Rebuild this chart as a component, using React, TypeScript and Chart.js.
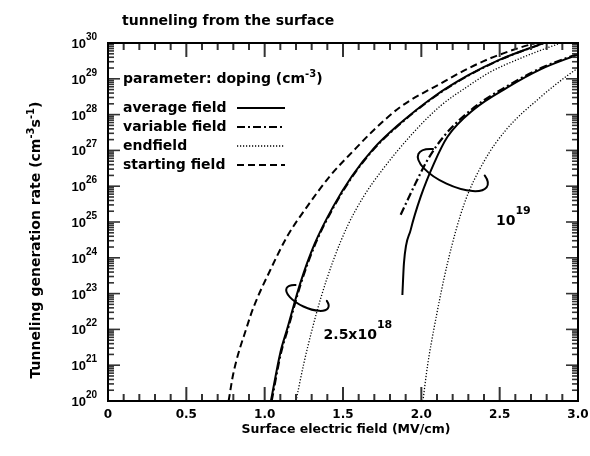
import React, { useEffect, useRef } from "react";
import { Chart, registerables } from "chart.js";

Chart.register(...registerables);

// ---- Data (surface field in MV/cm, generation rate as log10 exponent) ----
// doping 2.5x10^18
const startingField25 = [0.77, 0.80, 0.887, 0.93, 1.036, 1.143, 1.271, 1.42, 1.569, 1.697, 1.868, 2.124, 2.295, 2.444, 2.615, 2.73];
const startingExp25 = [20.0, 20.77, 22.08, 22.63, 23.66, 24.59, 25.43, 26.3, 27.0, 27.57, 28.22, 28.87, 29.28, 29.58, 29.85, 30.0];
const averageField25 = [1.04, 1.10, 1.143, 1.228, 1.32, 1.44, 1.56, 1.695, 1.85, 2.08, 2.3, 2.508, 2.78];
const averageExp25 = [20.0, 21.35, 22.0, 23.3, 24.4, 25.45, 26.3, 27.05, 27.7, 28.5, 29.1, 29.55, 30.0];
const variableField25 = [1.045, 1.105, 1.148, 1.233, 1.325, 1.445, 1.565, 1.70, 1.855, 2.085, 2.305, 2.513, 2.785];
const variableExp25 = [20.0, 21.35, 22.0, 23.3, 24.4, 25.45, 26.3, 27.05, 27.7, 28.5, 29.1, 29.55, 30.0];
const endField25 = [1.20, 1.25, 1.30, 1.36, 1.44, 1.53, 1.63, 1.75, 1.95, 2.124, 2.30, 2.444, 2.62, 2.764, 2.89];
const endExp25 = [20.0, 21.05, 21.95, 22.9, 23.95, 24.9, 25.7, 26.45, 27.5, 28.25, 28.8, 29.2, 29.55, 29.8, 30.0];
// doping 10^19
const variableField19 = [1.868, 1.953, 2.039, 2.145, 2.337, 2.55, 2.764, 3.0];
const variableExp19 = [25.2, 25.99, 26.73, 27.4, 28.2, 28.8, 29.3, 29.7];
const averageField19 = [1.879, 1.889, 1.932, 1.996, 2.081, 2.167, 2.337, 2.55, 2.764, 3.0];
const averageExp19 = [22.96, 23.85, 24.78, 25.71, 26.64, 27.38, 28.15, 28.76, 29.27, 29.68];
const endField19 = [2.01, 2.04, 2.081, 2.167, 2.273, 2.401, 2.54, 2.764, 2.935, 3.0];
const endExp19 = [20.0, 21.0, 22.03, 23.85, 25.5, 26.7, 27.57, 28.5, 29.1, 29.3];

// axes
const xTickValues = [0, 0.5, 1.0, 1.5, 2.0, 2.5, 3.0];
const xTickLabels = ["0", "0.5", "1.0", "1.5", "2.0", "2.5", "3.0"];
const yTickExponents = [20, 21, 22, 23, 24, 25, 26, 27, 28, 29, 30];
const xMinorTicks = [0, 0.1, 0.2, 0.3, 0.4, 0.5, 0.6, 0.7, 0.8, 0.9, 1.0, 1.1, 1.2, 1.3, 1.4, 1.5, 1.6, 1.7, 1.8, 1.9, 2.0, 2.1, 2.2, 2.3, 2.4, 2.5, 2.6, 2.7, 2.8, 2.9, 3.0];
const yMinorMultipliers = [1, 2, 3, 4, 5, 6, 7, 8, 9];

// annotations (loop centre and label anchors, data units)
const loopField = [1.273, 2.201];
const loopExp = [22.88, 26.45];
const labelField = [1.376, 2.476];
const labelExp = [21.73, 24.92];
const labelBase = ["2.5x10", "10"];
const labelSup = ["18", "19"];

const legendLabels = ["average field", "variable field", "endfield", "starting field"];

const DASH_START = [7, 4];
const DASH_VAR = [8, 3, 2, 3];
const DASH_END = [1.2, 1.8];

const BOLD = "bold 14px 'DejaVu Sans'";
const TICK_COLOR = "#333333";

function pts(xs: number[], es: number[]) {
  return xs.map((x, i) => ({ x, y: Math.pow(10, es[i]) }));
}

type Part = [string, boolean];

function richWidth(ctx: CanvasRenderingContext2D, parts: Part[], font: string, supFont: string) {
  let w = 0;
  for (const [t, sup] of parts) {
    ctx.font = sup ? supFont : font;
    w += ctx.measureText(t).width;
  }
  return w;
}

function drawRich(ctx: CanvasRenderingContext2D, parts: Part[], x: number, y: number, font: string, supFont: string, rise: number) {
  let cx = x;
  ctx.textAlign = "left";
  ctx.textBaseline = "alphabetic";
  for (const [t, sup] of parts) {
    ctx.font = sup ? supFont : font;
    ctx.fillText(t, cx, sup ? y - rise : y);
    cx += ctx.measureText(t).width;
  }
}

function seg(ctx: CanvasRenderingContext2D, x1: number, y1: number, x2: number, y2: number) {
  ctx.beginPath();
  ctx.moveTo(x1, y1);
  ctx.lineTo(x2, y2);
  ctx.stroke();
}

const tickPlugin = {
  id: "ticks",
  afterDraw(chart: any) {
    const ctx: CanvasRenderingContext2D = chart.ctx;
    const a = chart.chartArea;
    const xs = chart.scales.x;
    const ys = chart.scales.y;
    ctx.save();
    ctx.fillStyle = TICK_COLOR;
    // bottom and top ticks, pointing inward
    xMinorTicks.forEach((v, i) => {
      const px = xs.getPixelForValue(v);
      const len = i % 5 === 0 ? 14 : 7;
      ctx.fillRect(px - 1, a.bottom - len, 2, len);
      ctx.fillRect(px - 1, a.top, 2, len);
    });
    // left and right ticks (log minor), pointing inward
    for (let d = 20; d < 30; d++) {
      yMinorMultipliers.forEach((m) => {
        const py = ys.getPixelForValue(m * Math.pow(10, d));
        const len = m === 1 ? 12 : 6;
        ctx.fillRect(a.left, py - 0.8, len, 1.6);
        ctx.fillRect(a.right - len, py - 0.8, len, 1.6);
      });
    }
    ctx.restore();
  },
};

const decorPlugin = {
  id: "decor",
  afterDraw(chart: any) {
    const ctx: CanvasRenderingContext2D = chart.ctx;
    const a = chart.chartArea;
    const xs = chart.scales.x;
    const ys = chart.scales.y;
    const L = a.left, R = a.right, T = a.top, B = a.bottom;
    ctx.save();
    ctx.fillStyle = "#000";
    ctx.strokeStyle = "#000";
    ctx.setLineDash([]);
    ctx.lineCap = "butt";

    // frame
    ctx.lineWidth = 2;
    ctx.strokeRect(L, T, R - L, B - T);

    // x tick labels
    ctx.font = "bold 12px 'DejaVu Sans'";
    ctx.textAlign = "center";
    ctx.textBaseline = "alphabetic";
    xTickValues.forEach((v, i) => {
      ctx.fillText(xTickLabels[i], xs.getPixelForValue(v), B + 17);
    });

    // y tick labels 10^n
    yTickExponents.forEach((e) => {
      const py = ys.getPixelForValue(Math.pow(10, e));
      ctx.font = "bold 13px 'Liberation Sans'";
      ctx.textAlign = "right";
      ctx.fillText("10", L - 22, py + 5);
      ctx.font = "bold 10px 'Liberation Sans'";
      ctx.textAlign = "left";
      ctx.fillText(String(e), L - 22, py - 3);
    });

    // axis titles
    ctx.font = "bold 12.5px 'DejaVu Sans'";
    ctx.textAlign = "center";
    ctx.fillText("Surface electric field (MV/cm)", (L + R) / 2 + 3, B + 32);

    const yParts: Part[] = [["Tunneling generation rate (cm", false], ["-3", true], ["s", false], ["-1", true], [")", false]];
    const yFont = "bold 14px 'DejaVu Sans'";
    const ySup = "bold 10px 'DejaVu Sans'";
    ctx.save();
    ctx.translate(40, (T + B) / 2 + 18);
    ctx.rotate(-Math.PI / 2);
    const yw = richWidth(ctx, yParts, yFont, ySup);
    drawRich(ctx, yParts, -yw / 2, 0, yFont, ySup, 6);
    ctx.restore();

    // chart title
    ctx.font = BOLD;
    ctx.textAlign = "left";
    ctx.fillText("tunneling from the surface", 122, 25);

    // legend
    drawRich(ctx, [["parameter: doping (cm", false], ["-3", true], [")", false]], 123, 83, BOLD, "bold 10px 'DejaVu Sans'", 6);
    const legendY = [112, 131, 150, 169];
    const legendDash = [[], DASH_VAR, DASH_END, DASH_START];
    const legendWidth = [2, 2, 1.3, 2];
    legendLabels.forEach((lab, i) => {
      ctx.font = BOLD;
      ctx.textAlign = "left";
      ctx.fillText(lab, 123, legendY[i]);
      ctx.setLineDash(legendDash[i]);
      ctx.lineWidth = legendWidth[i];
      seg(ctx, 237, legendY[i] - 4, 285, legendY[i] - 4);
    });
    ctx.setLineDash([]);

    // annotation loops
    const loopR = [[23, 9.5], [38, 15]];
    ctx.lineWidth = 2;
    ctx.lineCap = "round";
    loopField.forEach((f, i) => {
      const cx = xs.getPixelForValue(f);
      const cy = ys.getPixelForValue(Math.pow(10, loopExp[i]));
      ctx.beginPath();
      ctx.ellipse(cx, cy, loopR[i][0], loopR[i][1], (25 * Math.PI) / 180, (225 * Math.PI) / 180, (-35 * Math.PI) / 180, true);
      ctx.stroke();
    });
    // annotation labels
    labelField.forEach((f, i) => {
      const lx = xs.getPixelForValue(f);
      const ly = ys.getPixelForValue(Math.pow(10, labelExp[i]));
      drawRich(ctx, [[labelBase[i], false], [labelSup[i], true]], lx, ly, BOLD, "bold 11px 'DejaVu Sans'", 11);
    });

    ctx.restore();
  },
};

export default function App() {
  const ref = useRef<HTMLCanvasElement | null>(null);
  useEffect(() => {
    document.body.style.margin = "0";
    const canvas = ref.current;
    if (!canvas) return;
    const common = { pointRadius: 0, borderColor: "#000", fill: false, cubicInterpolationMode: "monotone" as const, borderCapStyle: "butt" as const };
    const chart = new Chart(canvas, {
      type: "line",
      data: {
        datasets: [
          { ...common, label: "starting 2.5e18", data: pts(startingField25, startingExp25), borderWidth: 2, borderDash: DASH_START },
          { ...common, label: "average 2.5e18", data: pts(averageField25, averageExp25), borderWidth: 2 },
          { ...common, label: "variable 2.5e18", data: pts(variableField25, variableExp25), borderWidth: 2, borderDash: DASH_VAR },
          { ...common, label: "endfield 2.5e18", data: pts(endField25, endExp25), borderWidth: 1.3, borderDash: DASH_END },
          { ...common, label: "variable 1e19", data: pts(variableField19, variableExp19), borderWidth: 2.2, borderDash: DASH_VAR },
          { ...common, label: "average 1e19", data: pts(averageField19, averageExp19), borderWidth: 2 },
          { ...common, label: "endfield 1e19", data: pts(endField19, endExp19), borderWidth: 1.3, borderDash: DASH_END },
        ],
      },
      options: {
        animation: false,
        responsive: false,
        devicePixelRatio: 1,
        parsing: false,
        layout: { padding: { left: 108, top: 43, right: 12, bottom: 55 } },
        plugins: { legend: { display: false }, title: { display: false }, tooltip: { enabled: false } },
        scales: {
          x: { type: "linear", min: 0, max: 3, display: false },
          y: { type: "logarithmic", min: 1e20, max: 1e30, display: false },
        },
      },
      plugins: [tickPlugin, decorPlugin],
    });
    return () => chart.destroy();
  }, []);
  return (
    <div style={{ width: 590, height: 456, background: "#fff" }}>
      <canvas ref={ref} width={590} height={456} style={{ display: "block" }} />
    </div>
  );
}
